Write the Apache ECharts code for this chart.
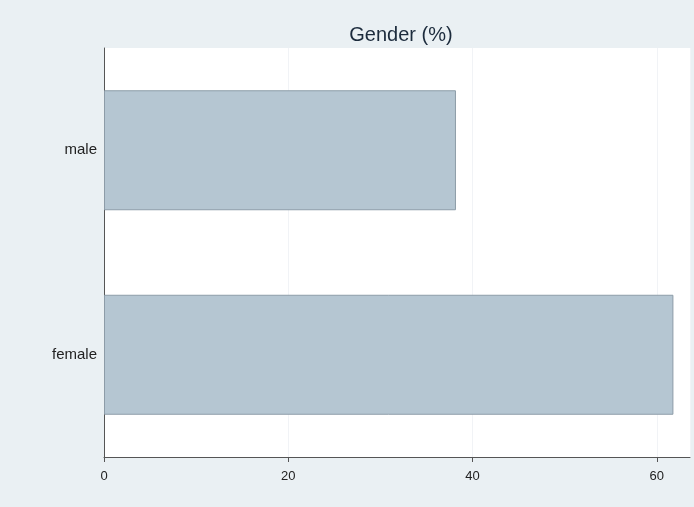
<!DOCTYPE html>
<html>
<head>
<meta charset="utf-8">
<script src="https://cdn.jsdelivr.net/npm/echarts@6/dist/echarts.min.js"></script>
<style>
html,body{margin:0;padding:0;background:#eaf0f3;}
#c{width:694px;height:507px;}
</style>
</head>
<body>
<div id="c"></div>
<script>
const categories = ['female', 'male'];
const values = [61.8, 38.2];
const titleText = 'Gender (%)';
const xTicks = [0, 20, 40, 60];

const chart = echarts.init(document.getElementById('c'), null, {renderer: 'canvas'});
chart.setOption({
  backgroundColor: '#eaf0f3',
  animation: false,
  title: {
    text: titleText,
    left: 396, top: 20, textAlign: 'center',
    textStyle: {fontFamily: 'Liberation Sans, Arial, sans-serif', fontSize: 20, fontWeight: 'normal', color: '#1c2b3c'}
  },
  grid: {left: 104, right: 4, top: 48, bottom: 50, show: true, backgroundColor: '#ffffff', borderWidth: 0},
  xAxis: {
    type: 'value', min: 0, max: 63.6, interval: 20,
    axisLine: {show: true, lineStyle: {color: '#555', width: 1}},
    axisTick: {show: true, length: 5, lineStyle: {color: '#555'}},
    axisLabel: {
      color: '#222', fontSize: 13, fontFamily: 'Liberation Sans, Arial, sans-serif', margin: 13,
      showMaxLabel: false,
      formatter: v => xTicks.includes(v) ? String(v) : ''
    },
    splitLine: {show: true, lineStyle: {color: '#f1f3f6', width: 1}}
  },
  yAxis: {
    type: 'category', data: categories,
    axisLine: {show: true, lineStyle: {color: '#555', width: 1}},
    axisTick: {show: false},
    axisLabel: {color: '#222', fontSize: 15, fontFamily: 'Liberation Sans, Arial, sans-serif', margin: 7}
  },
  series: [{
    type: 'bar', data: values, barWidth: 120,
    itemStyle: {color: '#b5c6d2', borderColor: '#8d9ca8', borderWidth: 1}
  }]
});
</script>
</body>
</html>
